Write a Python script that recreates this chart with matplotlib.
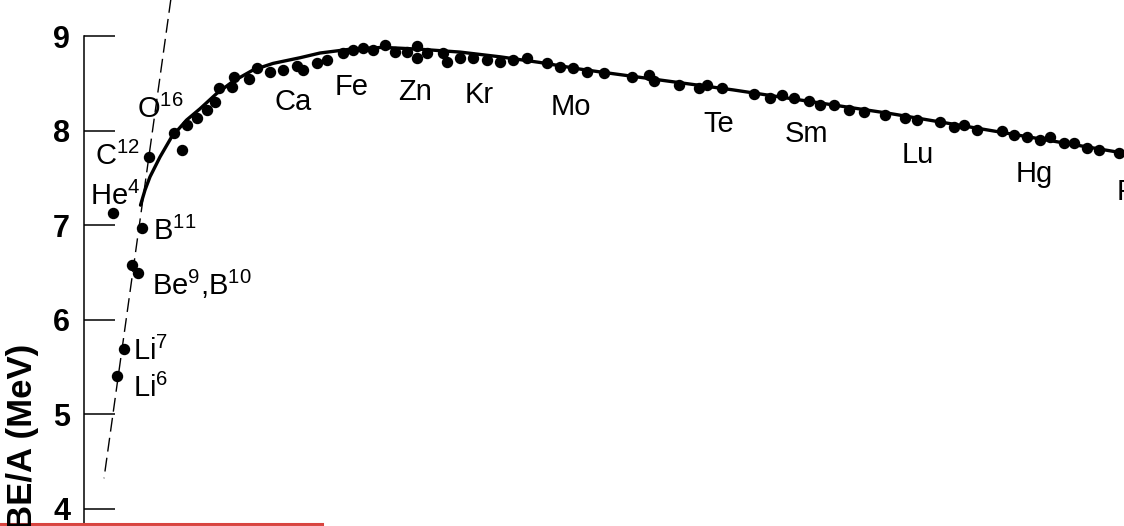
import matplotlib
matplotlib.use("Agg")
import matplotlib.pyplot as plt
from matplotlib.lines import Line2D

plt.rcParams['font.family'] = ['Liberation Sans', 'DejaVu Sans']
plt.rcParams['mathtext.fontset'] = 'custom'
plt.rcParams['mathtext.rm'] = 'Liberation Sans'
plt.rcParams['mathtext.default'] = 'regular'

# light nuclei (mass number as placed on the figure, BE/A in MeV)
light_A = [3.9, 4.7, 6.1, 7.7, 8.9, 9.7, 11.1, 17.7]
light_be = [7.13, 5.40, 5.69, 6.58, 6.49, 6.97, 7.72, 7.79]

# measured points along the main curve
nuc_A = [16.1, 18.7, 20.7, 22.7, 24.4, 25.1, 27.7, 28.1, 31.1, 32.7, 35.4, 38.0,
         40.7, 42.0, 44.7, 46.7, 50.0, 52.0, 54.0, 56.0, 58.4, 60.4, 62.8, 64.8,
         64.8, 66.8, 70.0, 70.8, 73.4, 76.0, 78.8, 81.4, 84.0, 86.8, 90.8, 93.4,
         96.0, 98.8, 102.1, 107.7, 111.1, 112.1, 117.1, 121.1, 122.7, 125.7, 132.1,
         135.4, 137.7, 140.1, 143.1, 145.4, 148.1, 151.1, 154.1, 158.4, 162.4, 164.7,
         169.4, 172.1, 174.1, 176.7, 181.7, 184.1, 186.7, 189.4, 191.4, 194.1, 196.1,
         198.7, 201.1, 205.1]
nuc_be = [7.97, 8.06, 8.13, 8.22, 8.30, 8.45, 8.46, 8.57, 8.54, 8.66, 8.62, 8.64,
          8.68, 8.64, 8.71, 8.75, 8.82, 8.85, 8.87, 8.85, 8.90, 8.83, 8.83, 8.89,
          8.77, 8.82, 8.82, 8.73, 8.77, 8.77, 8.75, 8.73, 8.75, 8.77, 8.71, 8.67,
          8.66, 8.62, 8.61, 8.57, 8.59, 8.52, 8.48, 8.45, 8.48, 8.45, 8.39,
          8.34, 8.38, 8.34, 8.31, 8.27, 8.27, 8.22, 8.20, 8.16, 8.13, 8.11,
          8.09, 8.04, 8.06, 8.01, 7.99, 7.95, 7.93, 7.90, 7.93, 7.87, 7.87,
          7.81, 7.79, 7.76]

# smooth (solid) curve
curve_A = [9.5, 10.4, 11.4, 13.4, 15.7, 18.7, 21.4, 24.7, 28.0, 32.0, 36.0, 41.4,
           45.4, 51.4, 58.0, 65.4, 73.4, 81.4, 89.4, 97.4, 101.4, 128.0, 159.4,
           181.8, 206.2]
curve_be = [7.21, 7.37, 7.51, 7.72, 7.93, 8.11, 8.23, 8.39, 8.52, 8.64, 8.71, 8.77,
            8.82, 8.86, 8.88, 8.86, 8.83, 8.78, 8.72, 8.65, 8.62, 8.43, 8.18,
            7.98, 7.76]

# dashed line
dash_A = [15.6, 2.2]
dash_be = [9.40, 4.32]

# labels
light_labels = [r'O$^{16}$', r'C$^{12}$', r'He$^{4}$', r'B$^{11}$',
                r'Be$^{9}$,B$^{10}$', r'Li$^{7}$', r'Li$^{6}$']
light_lab_A = [8.8, 0.4, -0.6, 12.0, 11.8, 8.0, 8.0]
light_lab_be = [8.132, 7.635, 7.212, 6.841, 6.259, 5.571, 5.180]

elem_labels = ['Ca', 'Fe', 'Zn', 'Kr', 'Mo', 'Te', 'Sm', 'Lu', 'Hg', 'Pb']
elem_A = [40.0, 51.7, 64.4, 77.2, 95.5, 125.1, 142.6, 164.9, 188.2, 204.7]
elem_be = [8.217, 8.376, 8.323, 8.291, 8.164, 7.987, 7.881, 7.653, 7.458, 7.265]
elem_ha = ['center'] * 9 + ['left']

yticks = [4, 5, 6, 7, 8, 9]

fig = plt.figure(figsize=(11.24, 5.26), dpi=100)
ax = fig.add_axes([84 / 1124, 0, 1040 / 1124, 1])
ax.set_xlim(-1.8, 206.2)
ax.set_ylim(3.815, 9.381)

ax.plot(dash_A, dash_be, color='black', lw=1.0, dashes=(10, 4.5))
ax.plot(curve_A, curve_be, color='black', lw=2.4, solid_capstyle='round')
ax.plot(nuc_A, nuc_be, 'o', color='black', ms=7.2)
ax.plot(light_A, light_be, 'o', color='black', ms=7.2)

for t, a, b in zip(light_labels, light_lab_A, light_lab_be):
    ax.text(a, b, t, fontsize=21, ha='left', va='baseline')
for t, a, b, h in zip(elem_labels, elem_A, elem_be, elem_ha):
    ax.text(a, b, t, fontsize=21, ha=h, va='baseline', clip_on=False)

for s in ['top', 'right', 'bottom']:
    ax.spines[s].set_visible(False)
ax.spines['left'].set_linewidth(1.1)
ax.spines['left'].set_bounds(3.815, 9)
ax.set_xticks([])
ax.set_yticks(yticks)
ax.tick_params(axis='y', direction='in', length=22.3, width=1.1, pad=10,
               labelsize=22)
for lab in ax.get_yticklabels():
    lab.set_fontweight('bold')

fig.text(23 / 1124, 1 - 344 / 526, 'BE/A (MeV)', rotation=90, fontsize=25,
         fontweight='bold', ha='center', va='top')

# red underline at the bottom of the crop
fig.add_artist(Line2D([0, 322 / 1124], [2.5 / 526, 2.5 / 526], transform=fig.transFigure,
                      color='#d9443f', lw=2.2))
fig.add_artist(Line2D([0, 322 / 1124], [0.5 / 526, 0.5 / 526], transform=fig.transFigure,
                      color='#b5b5b5', lw=0.8))

fig.savefig('out.png', dpi=100)
